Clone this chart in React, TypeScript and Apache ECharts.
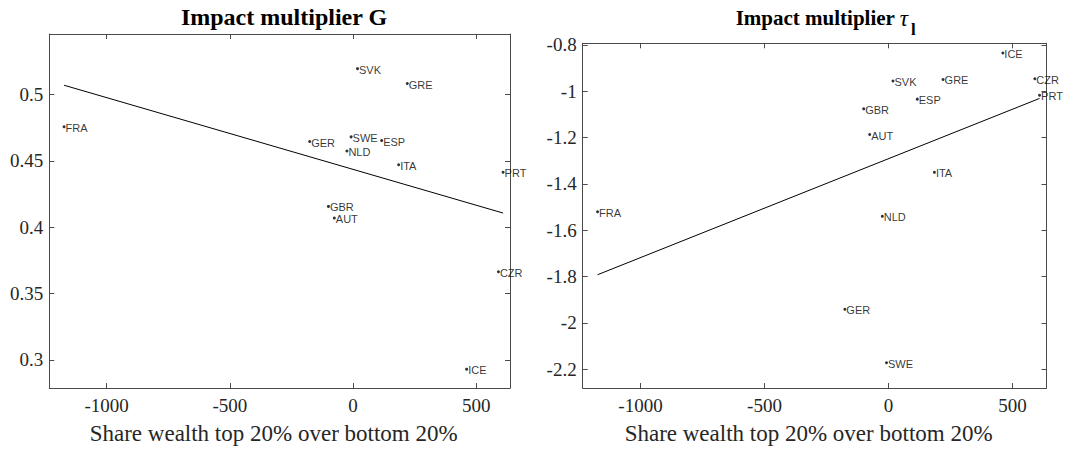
import React, { useEffect, useRef } from "react";
import * as echarts from "echarts";

const countries = ["FRA", "SVK", "GRE", "GER", "SWE", "ESP", "NLD", "ITA", "PRT", "GBR", "AUT", "CZR", "ICE"];
const wealthRatio = [-1173, 18, 220, -176, -8, 116, -25, 185, 609, -100, -76, 590, 461];
const multiplierG = [0.4756, 0.5194, 0.5082, 0.4645, 0.468, 0.4652, 0.4573, 0.447, 0.4414, 0.4156, 0.4068, 0.3664, 0.293];
const multiplierTau = [-1.52, -0.956, -0.949, -1.941, -2.172, -1.034, -1.54, -1.35, -1.017, -1.076, -1.187, -0.946, -0.835];
const fitX = [-1173, 609];
const fitG = [0.5069, 0.4106];
const fitTau = [-1.792, -1.031];
const xTicks = [-1000, -500, 0, 500];
const gTicks = [0.3, 0.35, 0.4, 0.45, 0.5];
const tauTicks = [-2.2, -2, -1.8, -1.6, -1.4, -1.2, -1, -0.8];
const xRange = [-1233, 637];
const gRange = [0.2788, 0.5455];
const tauRange = [-2.281, -0.793];
const xTitle = "Share wealth top 20% over bottom 20%";

const AX = "#4a4a4a";
const TXT = "#262626";
const SERIF = "Liberation Serif";
const SANS = "Liberation Sans";

const tickText = { fontFamily: SERIF, fontSize: 19, color: TXT };

function App() {
  const ref = useRef<HTMLDivElement>(null);
  useEffect(() => {
    if (!ref.current) return;
    const chart = echarts.init(ref.current, null, { renderer: "svg" });
    const fmt = (v: number) => "{t|" + String(v) + "}";
    const tickLabel = (margin: number, ticks: number[]) => ({
      show: true,
      customValues: ticks,
      formatter: fmt,
      margin,
      ...tickText,
      rich: { t: { ...tickText } },
    });
    const mainX = (grid: number) => ({
      type: "value",
      gridIndex: grid,
      position: "bottom",
      min: xRange[0],
      max: xRange[1],
      name: xTitle,
      nameLocation: "middle",
      nameGap: 34,
      nameTextStyle: { fontFamily: SERIF, fontSize: 23, color: TXT, padding: [0, 12, 0, 0] },
      axisLine: { show: true, onZero: false, lineStyle: { color: AX, width: 1 } },
      axisTick: { show: true, inside: true, length: 5, customValues: xTicks, lineStyle: { color: AX } },
      axisLabel: tickLabel(8, xTicks),
      splitLine: { show: false },
    });
    const topX = (grid: number) => ({
      type: "value",
      gridIndex: grid,
      position: "top",
      min: xRange[0],
      max: xRange[1],
      axisLine: { show: true, onZero: false, lineStyle: { color: AX, width: 1 } },
      axisTick: { show: true, inside: true, length: 5, customValues: xTicks, lineStyle: { color: AX } },
      axisLabel: { show: false },
      splitLine: { show: false },
    });
    const mainY = (grid: number, range: number[], ticks: number[]) => ({
      type: "value",
      gridIndex: grid,
      position: "left",
      min: range[0],
      max: range[1],
      axisLine: { show: true, onZero: false, lineStyle: { color: AX, width: 1 } },
      axisTick: { show: true, inside: true, length: 5, customValues: ticks, lineStyle: { color: AX } },
      axisLabel: tickLabel(6, ticks),
      splitLine: { show: false },
    });
    const rightY = (grid: number, range: number[], ticks: number[]) => ({
      type: "value",
      gridIndex: grid,
      position: "right",
      min: range[0],
      max: range[1],
      axisLine: { show: true, onZero: false, lineStyle: { color: AX, width: 1 } },
      axisTick: { show: true, inside: true, length: 5, customValues: ticks, lineStyle: { color: AX } },
      axisLabel: { show: false },
      splitLine: { show: false },
    });
    const scatter = (xi: number, yi: number, vals: number[]) => ({
      type: "scatter",
      xAxisIndex: xi,
      yAxisIndex: yi,
      symbol: "circle",
      symbolSize: 3,
      itemStyle: { color: "#000" },
      data: countries.map((c, i) => ({ name: c, value: [wealthRatio[i], vals[i]] })),
      label: {
        show: true,
        position: "right",
        distance: 0,
        formatter: "{b}",
        fontFamily: SANS,
        fontSize: 11,
        lineHeight: 11,
        color: "#000",
        offset: [0, 1],
      },
    });
    const fit = (xi: number, yi: number, vals: number[]) => ({
      type: "line",
      xAxisIndex: xi,
      yAxisIndex: yi,
      symbol: "none",
      lineStyle: { color: "#000", width: 1 },
      data: fitX.map((x, i) => [x, vals[i]]),
    });
    chart.setOption({
      animation: false,
      backgroundColor: "#fff",
      textStyle: { fontFamily: SERIF },
      grid: [
        { left: 49.3, top: 34, width: 460.7, height: 357.7 },
        { left: 582.7, top: 43.3, width: 463.8, height: 350 },
      ],
      xAxis: [mainX(0), topX(0), mainX(1), topX(1)],
      yAxis: [mainY(0, gRange, gTicks), rightY(0, gRange, gTicks), mainY(1, tauRange, tauTicks), rightY(1, tauRange, tauTicks)],
      series: [fit(0, 0, fitG), scatter(0, 0, multiplierG), fit(2, 2, fitTau), scatter(2, 2, multiplierTau)],
      graphic: [
        {
          type: "text",
          x: 284,
          y: 17,
          style: {
            text: "Impact multiplier G",
            fontFamily: SERIF,
            fontWeight: "bold",
            fontSize: 24,
            fill: "#000",
            align: "center",
            verticalAlign: "middle",
          },
        },
        {
          type: "text",
          x: 908,
          y: 18,
          style: {
            text: "{b|Impact multiplier }{t|τ}",
            align: "right",
            verticalAlign: "middle",
            rich: {
              b: { fontFamily: SERIF, fontWeight: "bold", fontSize: 21, fill: "#000" },
              t: { fontFamily: SERIF, fontStyle: "italic", fontSize: 23, fill: "#000" },
            },
          },
        },
        {
          type: "text",
          x: 911,
          y: 29,
          style: {
            text: "l",
            fontFamily: SERIF,
            fontWeight: "bold",
            fontSize: 17,
            fill: "#000",
            align: "left",
            verticalAlign: "middle",
          },
        },
      ],
    });
    return () => chart.dispose();
  }, []);
  return <div ref={ref} style={{ position: "absolute", left: 0, top: 0, width: 1068, height: 450 }} />;
}

export default App;
